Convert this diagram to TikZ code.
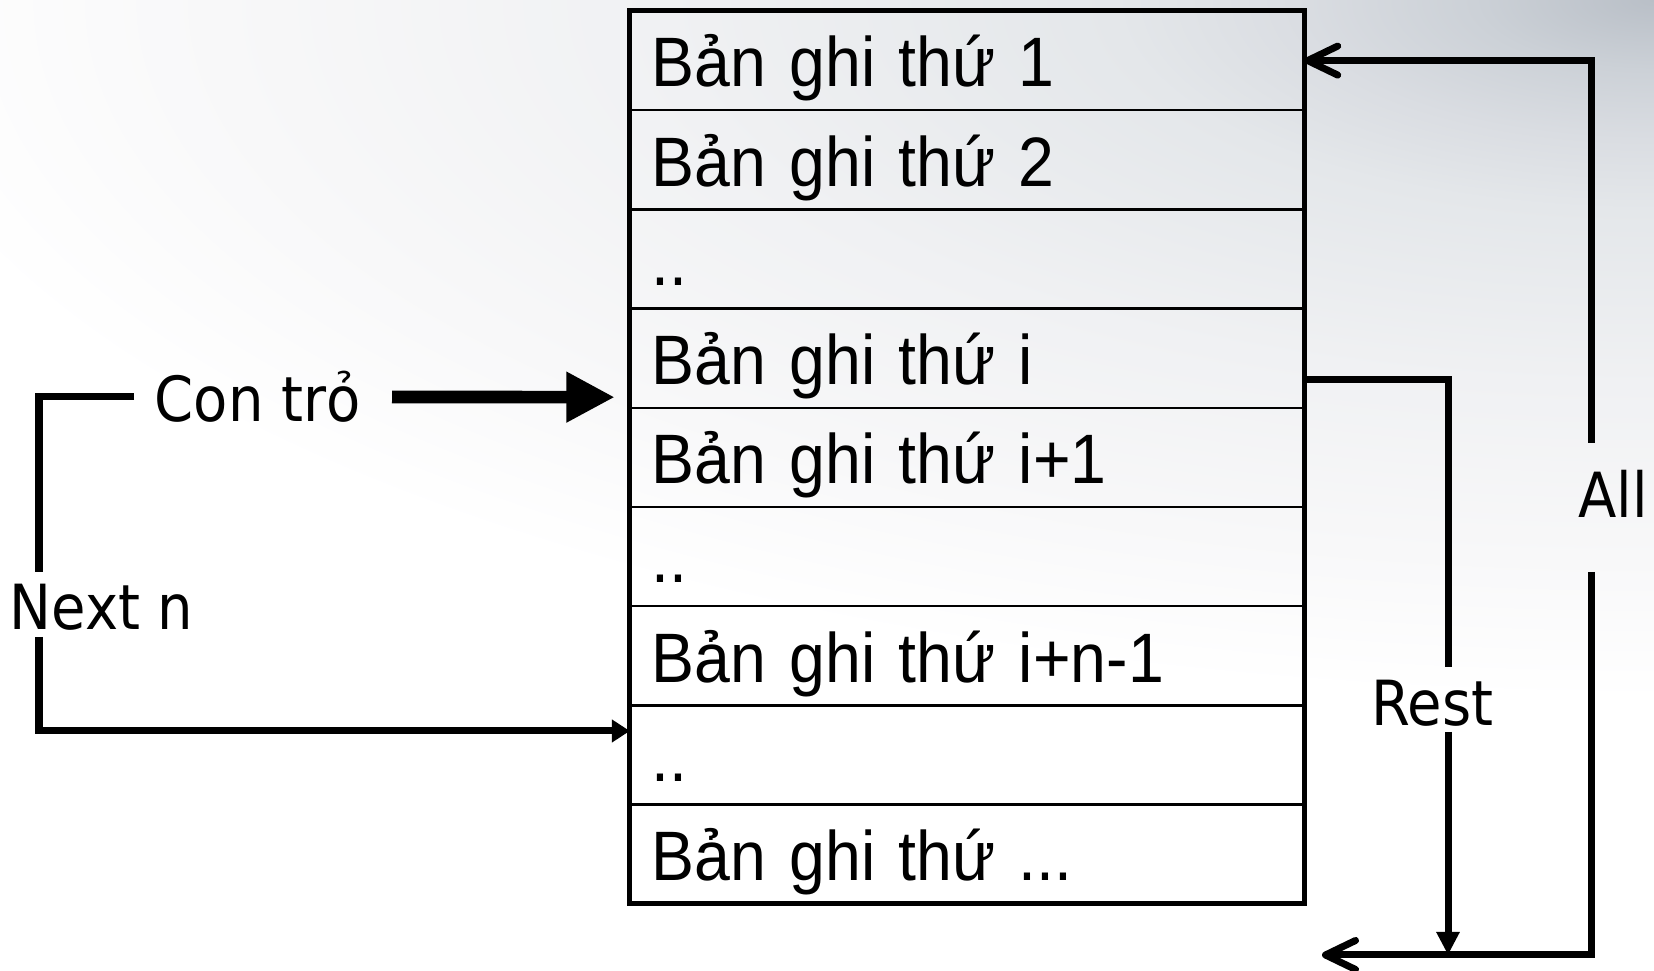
\documentclass[tikz,border=0pt]{standalone}
\usepackage{fontspec}
\setmainfont{Liberation Sans}[FakeStretch=0.92]
\newfontfamily\labelfont{DejaVu Sans Condensed}
\usetikzlibrary{arrows.meta,calc}

% background tints, from the upper right corner outwards
\definecolor{bgA}{HTML}{B9BFC7}
\definecolor{bgB}{HTML}{CCD1D7}
\definecolor{bgC}{HTML}{DADDE2}
\definecolor{bgD}{HTML}{E4E7EA}
\definecolor{bgE}{HTML}{F0F1F3}
\definecolor{bgF}{HTML}{F8F8F9}
\pgfdeclareradialshading{cornerglow}{\pgfpoint{0bp}{0bp}}{%
  color(0bp)=(bgA); color(2.5bp)=(bgB); color(5bp)=(bgC);
  color(7.5bp)=(bgD); color(13.75bp)=(bgE); color(20bp)=(bgF);
  color(25bp)=(white); color(50bp)=(white)}

\begin{document}
\begin{tikzpicture}[x=0.01cm,y=-0.01cm,
  row/.style={draw, line width=0.025cm, outer sep=0pt,
    minimum width=6.74cm, minimum height=0.992cm,
    text width=6.30cm, align=left, inner xsep=0.22cm,
    text height=17pt, text depth=2pt,
    font=\fontsize{19.9pt}{23pt}\selectfont},
  lab/.style={anchor=base west, inner sep=0pt,
    font=\labelfont\fontsize{17.7pt}{21pt}\selectfont},
  conn/.style={line width=0.07cm},
  barb/.style={-{Straight Barb[length=0.30cm,width=0.29cm,round]}},
]
\useasboundingbox (0,0) rectangle (1654,971);

% soft grey background, darker toward the upper right corner
\begin{scope}
  \clip (0,0) rectangle (1654,971);
  \fill[white] (0,0) rectangle (1654,971);
  \shade[shading=cornerglow] (1654,0) ellipse [x radius=18cm, y radius=7cm];
\end{scope}

% the records of the table
\node[row] (r1) at (967,60.6)  {Bản ghi thứ 1};
\node[row] (r2) at (967,159.8) {Bản ghi thứ 2};
\node[row] (r3) at (967,259.0) {..};
\node[row] (r4) at (967,358.2) {Bản ghi thứ i};
\node[row] (r5) at (967,457.4) {Bản ghi thứ i+1};
\node[row] (r6) at (967,556.6) {..};
\node[row] (r7) at (967,655.8) {Bản ghi thứ i+n-1};
\node[row] (r8) at (967,755.0) {..};
\node[row] (r9) at (967,854.2) {Bản ghi thứ ...};
\draw[line width=0.05cm] (r1.north west) rectangle (r9.south east);

% labels
\node[lab] (ptrlab)  at (154,422)  {Con trỏ};
\node[lab] (nextlab) at (9,630)    {Next n};
\node[lab] (restlab) at (1371,726) {Rest};
\node[lab] (alllab)  at (1578,518) {All};

% helper points
\coordinate (ptrStart) at (392,397);
\coordinate (ptrTip)   at ($(r4.west)+(-15,39)$);
\coordinate (nextTail) at (134,397);
\coordinate (nextA)    at (39,572);
\coordinate (nextB)    at (39,637);
\coordinate (restFrom) at ($(r4.east)+(0,21)$);
\coordinate (restA)    at (1448,667);
\coordinate (restB)    at (1448,732);
\coordinate (restEnd)  at (1448,955);
\coordinate (allA)     at (1591,443);
\coordinate (allB)     at (1591,572);
\coordinate (retTip)   at (1322,955);

% current pointer
\draw[line width=0.127cm, -{Triangle[length=0.485cm,width=0.475cm]}] (ptrStart) -- (ptrTip);

% Next n
\draw[conn] (nextTail) -| (nextA);
\draw[conn, -{Triangle[length=0.18cm,width=0.22cm]}] (nextB) |- ($(r8.west)+(0,-24)$);

% Rest
\draw[conn] (restFrom) -| (restA);
\draw[conn, -{Triangle[length=0.23cm,width=0.22cm]}] (restB) -- (restEnd);

% All
\draw[conn, barb] (allA) |- (r1.east);
\draw[conn, barb] (allB) |- (retTip);
\end{tikzpicture}
\end{document}
